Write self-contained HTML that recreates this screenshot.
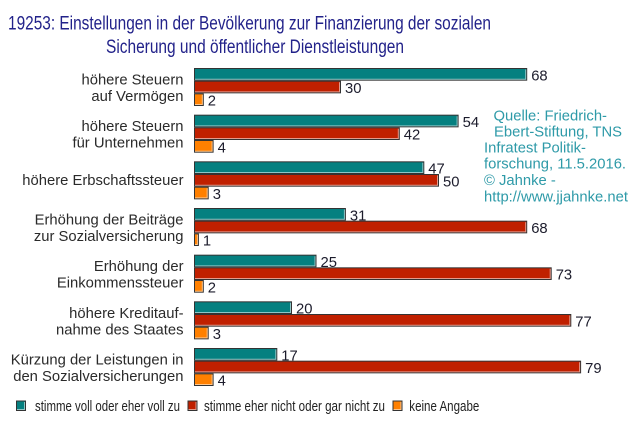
<!DOCTYPE html>
<html><head><meta charset="utf-8">
<style>
html,body{margin:0;padding:0;background:#fff;}
svg{display:block;}
text{font-family:"Liberation Sans",Arial,sans-serif;}
.lab{font-size:14.8px;fill:#2a2a2a;text-anchor:end;}
.val{font-size:14.8px;fill:#1c1c2c;}
.src{font-size:14.8px;fill:#2e9aa8;}
.leg{font-size:14.5px;fill:#222;}
.t{fill:#058080;stroke:#333;stroke-width:1;}
.r{fill:#c02000;stroke:#333;stroke-width:1;}
.o{fill:#ff8000;stroke:#333;stroke-width:1;}
.hl{fill:none;stroke:rgba(255,255,255,0.55);stroke-width:1;}
</style></head>
<body>
<svg width="640" height="435" viewBox="0 0 640 435" xmlns="http://www.w3.org/2000/svg">
<rect width="640" height="435" fill="#fff"/>
<!-- Title -->
<text x="8" y="29.5" font-size="19" fill="#22228a" textLength="483" lengthAdjust="spacingAndGlyphs">19253: Einstellungen in der Bevölkerung zur Finanzierung der sozialen</text>
<text x="106" y="53" font-size="19" fill="#22228a" textLength="298" lengthAdjust="spacingAndGlyphs">Sicherung und öffentlicher Dienstleistungen</text>

<!-- Category labels -->
<text class="lab" x="183.5" y="84.5">höhere Steuern</text>
<text class="lab" x="183.5" y="101">auf Vermögen</text>
<text class="lab" x="183.5" y="131.2">höhere Steuern</text>
<text class="lab" x="183.5" y="147.7">für Unternehmen</text>
<text class="lab" x="183.5" y="185">höhere Erbschaftssteuer</text>
<text class="lab" x="183.5" y="224.5">Erhöhung der Beiträge</text>
<text class="lab" x="183.5" y="241">zur Sozialversicherung</text>
<text class="lab" x="183.5" y="271.2">Erhöhung der</text>
<text class="lab" x="183.5" y="287.7">Einkommenssteuer</text>
<text class="lab" x="183.5" y="317.8">höhere Kreditauf-</text>
<text class="lab" x="183.5" y="334.3">nahme des Staates</text>
<text class="lab" x="183.5" y="364.5">Kürzung der Leistungen in</text>
<text class="lab" x="183.5" y="381">den Sozialversicherungen</text>

<!-- Group 0 -->
<rect class="t" x="194.5" y="68.5" width="332.2" height="11.67"/><path class="hl" d="M195 79.2H525.7V69.5"/>
<rect class="r" x="194.5" y="81.17" width="146" height="11.67"/><path class="hl" d="M195 91.87H339.5V82.2"/>
<rect class="o" x="194.5" y="93.83" width="8.8" height="11.67"/><path class="hl" d="M195 104.53H202.3V94.8"/>
<text class="val" x="531.2" y="80.3">68</text>
<text class="val" x="345" y="92.97">30</text>
<text class="val" x="207.8" y="105.63">2</text>

<!-- Group 1 -->
<rect class="t" x="194.5" y="115.17" width="263.6" height="11.67"/><path class="hl" d="M195 125.87H457.1V116.2"/>
<rect class="r" x="194.5" y="127.83" width="204.8" height="11.67"/><path class="hl" d="M195 138.53H398.3V128.8"/>
<rect class="o" x="194.5" y="140.5" width="18.6" height="11.67"/><path class="hl" d="M195 151.2H212.1V141.5"/>
<text class="val" x="462.6" y="126.97">54</text>
<text class="val" x="403.8" y="139.63">42</text>
<text class="val" x="217.6" y="152.3">4</text>

<!-- Group 2 -->
<rect class="t" x="194.5" y="161.83" width="229.3" height="11.67"/><path class="hl" d="M195 172.53H422.8V162.8"/>
<rect class="r" x="194.5" y="174.5" width="244" height="11.67"/><path class="hl" d="M195 185.2H437.5V175.5"/>
<rect class="o" x="194.5" y="187.17" width="13.7" height="11.67"/><path class="hl" d="M195 197.87H207.2V188.2"/>
<text class="val" x="428.3" y="173.63">47</text>
<text class="val" x="443" y="186.3">50</text>
<text class="val" x="212.7" y="198.97">3</text>

<!-- Group 3 -->
<rect class="t" x="194.5" y="208.5" width="150.9" height="11.67"/><path class="hl" d="M195 219.2H344.4V209.5"/>
<rect class="r" x="194.5" y="221.17" width="332.2" height="11.67"/><path class="hl" d="M195 231.87H525.7V222.2"/>
<rect class="o" x="194.5" y="233.83" width="3.9" height="11.67"/><path class="hl" d="M195 244.53H197.4V234.8"/>
<text class="val" x="349.9" y="220.3">31</text>
<text class="val" x="531.2" y="232.97">68</text>
<text class="val" x="202.9" y="245.63">1</text>

<!-- Group 4 -->
<rect class="t" x="194.5" y="255.17" width="121.5" height="11.67"/><path class="hl" d="M195 265.87H315V256.2"/>
<rect class="r" x="194.5" y="267.83" width="356.7" height="11.67"/><path class="hl" d="M195 278.53H550.2V268.8"/>
<rect class="o" x="194.5" y="280.5" width="8.8" height="11.67"/><path class="hl" d="M195 291.2H202.3V281.5"/>
<text class="val" x="320.5" y="266.97">25</text>
<text class="val" x="555.7" y="279.63">73</text>
<text class="val" x="207.8" y="292.3">2</text>

<!-- Group 5 -->
<rect class="t" x="194.5" y="301.83" width="97" height="11.67"/><path class="hl" d="M195 312.53H290.5V302.8"/>
<rect class="r" x="194.5" y="314.5" width="376.3" height="11.67"/><path class="hl" d="M195 325.2H569.8V315.5"/>
<rect class="o" x="194.5" y="327.17" width="13.7" height="11.67"/><path class="hl" d="M195 337.87H207.2V328.2"/>
<text class="val" x="296" y="313.63">20</text>
<text class="val" x="575.3" y="326.3">77</text>
<text class="val" x="212.7" y="338.97">3</text>

<!-- Group 6 -->
<rect class="t" x="194.5" y="348.5" width="82.3" height="11.67"/><path class="hl" d="M195 359.2H275.8V349.5"/>
<rect class="r" x="194.5" y="361.17" width="386.1" height="11.67"/><path class="hl" d="M195 371.87H579.6V362.2"/>
<rect class="o" x="194.5" y="373.83" width="18.6" height="11.67"/><path class="hl" d="M195 384.53H212.1V374.8"/>
<text class="val" x="281.3" y="360.3">17</text>
<text class="val" x="585.1" y="372.97">79</text>
<text class="val" x="217.6" y="385.63">4</text>

<!-- Source -->
<text class="src" x="493.5" y="120.5">Quelle: Friedrich-</text>
<text class="src" x="494" y="136.5" textLength="128" lengthAdjust="spacingAndGlyphs">Ebert-Stiftung, TNS</text>
<text class="src" x="484" y="152.5">Infratest Politik-</text>
<text class="src" x="484" y="168.7">forschung, 11.5.2016.</text>
<text class="src" x="484" y="185">© Jahnke -</text>
<text class="src" x="484" y="201.5">http://www.jjahnke.net</text>

<!-- Legend -->
<rect class="t" x="16.5" y="401" width="9" height="9.5"/><path class="hl" d="M17 409.5H24.5V402"/>
<text class="leg" x="35" y="411" textLength="145" lengthAdjust="spacingAndGlyphs">stimme voll oder eher voll zu</text>
<rect class="r" x="188" y="401" width="9" height="9.5"/><path class="hl" d="M188.5 409.5H196V402"/>
<text class="leg" x="204" y="411" textLength="181" lengthAdjust="spacingAndGlyphs">stimme eher nicht oder gar nicht zu</text>
<rect class="o" x="393" y="401" width="9" height="9.5"/><path class="hl" d="M393.5 409.5H401V402"/>
<text class="leg" x="409.3" y="411" textLength="70" lengthAdjust="spacingAndGlyphs">keine Angabe</text>
</svg>
</body></html>
